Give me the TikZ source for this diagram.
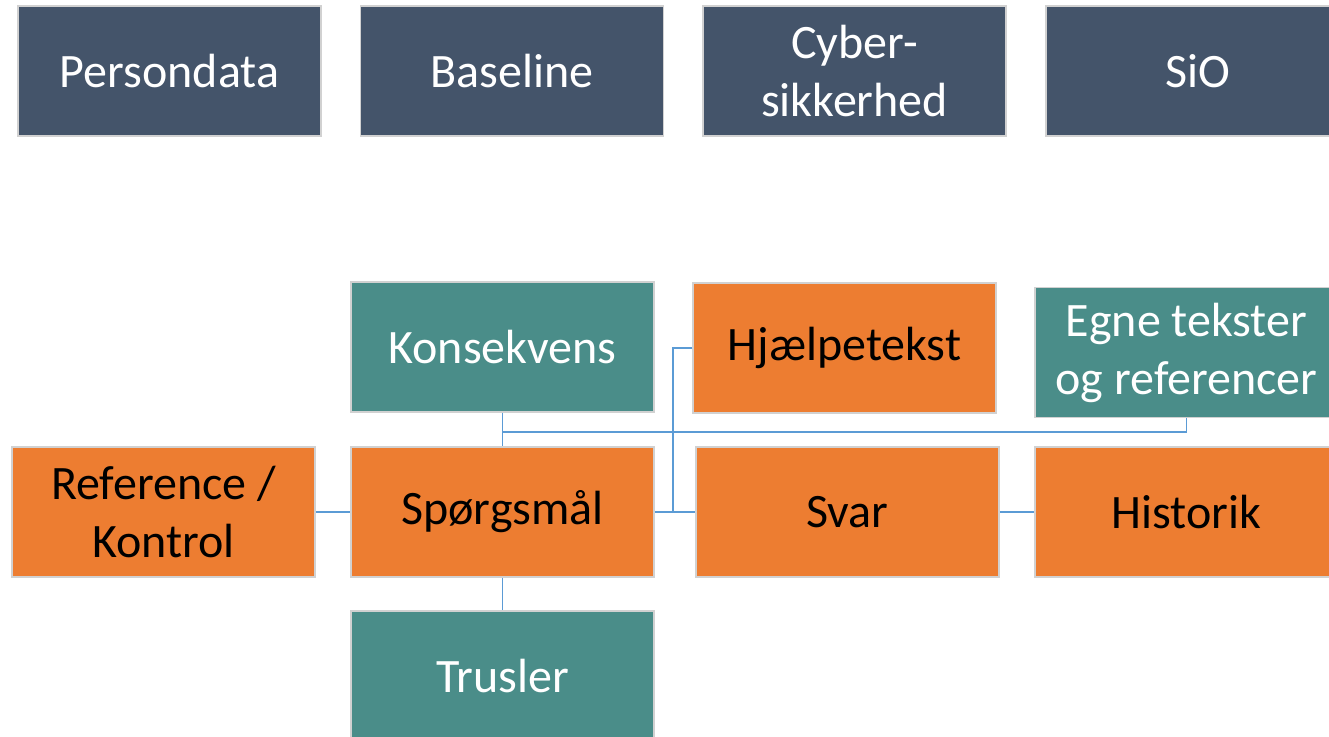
\documentclass[tikz,border=0pt]{standalone}
\usepackage{fontspec}
\setmainfont{Carlito}
\definecolor{slate}{HTML}{44546A}
\definecolor{teal}{HTML}{4A8D89}
\definecolor{orange}{HTML}{ED7D31}
\definecolor{linkblue}{HTML}{5B9BD5}
\tikzset{
  card/.style={draw=black!18, line width=1.5pt, minimum width=303pt,
    minimum height=130pt, align=center, inner sep=0pt,
    font=\fontsize{48}{58}\selectfont},
  topic/.style={card, fill=slate, text=white},
  extra/.style={card, fill=teal, text=white},
  core/.style={card, fill=orange, text=black},
  link/.style={draw=linkblue, line width=1.4pt}
}
\begin{document}
\begin{tikzpicture}[x=1pt,y=-1pt]
    \useasboundingbox (0,0) rectangle (1329,736);
    \clip (0,0) rectangle (1329,736);
    % top row
    \node (pers) at (169.5,71) [topic] {Persondata}; \node (base) at
    (512,71) [topic] {Baseline}; \node (cyber) at (854.5,71) [topic]
    {Cyber-\\sikkerhed}; \node (sio) at (1197.5,71) [topic] {SiO};
    % question model
    \node (kons) at (502.5,347) [extra] {Konsekvens}; \node (hjaelp) at
    (844.5,348) [core] {Hjælpetekst}; \node (egne) at (1186.5,352.5)
    [extra] {Egne tekster\\og referencer}; \node (ref) at (163.5,512)
    [core] {Reference /\\Kontrol}; \node (spm) at (502.5,512) [core]
    {Spørgsmål}; \node (svar) at (847.5,512) [core] {Svar}; \node (hist)
    at (1186.5,512) [core] {Historik}; \node (trus) at (502.5,676) [extra]
    {Trusler};
    \coordinate (kj) at (502.5,432); \coordinate (hj) at (673,512);
    \draw[link] (kons.south) -- (spm.north); \draw[link] (kj) -|
    (egne.south); \draw[link] (hjaelp.west) -| (hj); \draw[link]
    (ref.east) -- (spm.west); \draw[link] (spm.east) -- (svar.west);
    \draw[link] (svar.east) -- (hist.west); \draw[link] (spm.south) --
    (trus.north);
  \end{tikzpicture}
\end{document}
